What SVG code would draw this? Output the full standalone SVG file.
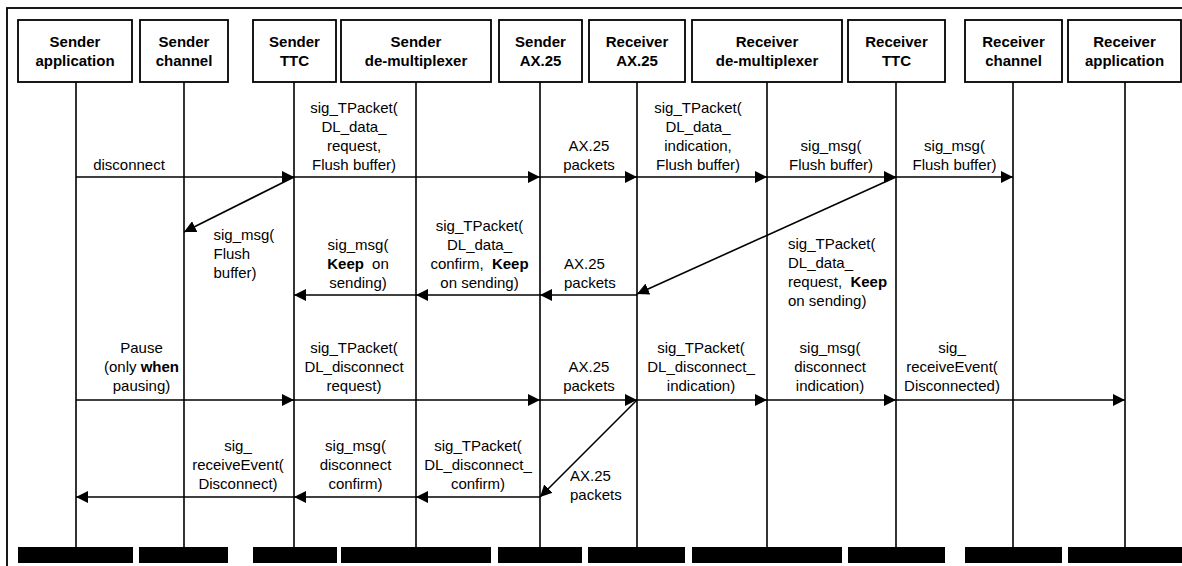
<svg xmlns="http://www.w3.org/2000/svg" width="1182" height="566" viewBox="0 0 1182 566">
<defs>
<marker id="ah" markerUnits="userSpaceOnUse" markerWidth="12" markerHeight="12" refX="12" refY="6" orient="auto"><path d="M0,0 L12,6 L0,12 z" fill="#000"/></marker>
<style>
.box{fill:#fff;stroke:#000;stroke-width:1.8}
.life{stroke:#000;stroke-width:1.6}
.bar{fill:#000}
.h{font:bold 15px "Liberation Sans",Arial,sans-serif;text-anchor:middle;fill:#000}
.t{font:15px "Liberation Sans",Arial,sans-serif;fill:#000}
.m{text-anchor:middle}
.b{font-weight:bold}
.msg{stroke:#000;stroke-width:1.6;marker-end:url(#ah);fill:none}
</style>
</defs>
<rect width="1182" height="566" fill="#fff"/>
<rect x="7" y="8" width="1200" height="600" fill="none" stroke="#000" stroke-width="1.8"/>

<g id="sender-application">
<line class="life" x1="76" y1="82" x2="76" y2="548"/>
<rect class="box" x="18" y="20" width="114" height="62"/>
<text class="h" x="75" y="47">Sender<tspan x="75" dy="19">application</tspan></text>
<rect class="bar" x="18" y="547" width="115" height="16"/>
</g>
<g id="sender-channel">
<line class="life" x1="184" y1="82" x2="184" y2="548"/>
<rect class="box" x="140" y="20" width="88" height="62"/>
<text class="h" x="184" y="47">Sender<tspan x="184" dy="19">channel</tspan></text>
<rect class="bar" x="139" y="547" width="89" height="16"/>
</g>
<g id="sender-ttc">
<line class="life" x1="294" y1="82" x2="294" y2="548"/>
<rect class="box" x="253" y="20" width="83" height="62"/>
<text class="h" x="294.5" y="47">Sender<tspan x="294.5" dy="19">TTC</tspan></text>
<rect class="bar" x="253" y="547" width="84" height="16"/>
</g>
<g id="sender-demux">
<line class="life" x1="416" y1="82" x2="416" y2="548"/>
<rect class="box" x="341" y="20" width="150" height="62"/>
<text class="h" x="416" y="47">Sender<tspan x="416" dy="19">de-multiplexer</tspan></text>
<rect class="bar" x="341" y="547" width="150" height="16"/>
</g>
<g id="sender-ax25">
<line class="life" x1="540" y1="82" x2="540" y2="548"/>
<rect class="box" x="499" y="20" width="83" height="62"/>
<text class="h" x="540.5" y="47">Sender<tspan x="540.5" dy="19">AX.25</tspan></text>
<rect class="bar" x="498" y="547" width="84" height="16"/>
</g>
<g id="receiver-ax25">
<line class="life" x1="637" y1="82" x2="637" y2="548"/>
<rect class="box" x="589" y="20" width="96" height="62"/>
<text class="h" x="637" y="47">Receiver<tspan x="637" dy="19">AX.25</tspan></text>
<rect class="bar" x="588" y="547" width="97" height="16"/>
</g>
<g id="receiver-demux">
<line class="life" x1="767" y1="82" x2="767" y2="548"/>
<rect class="box" x="692" y="20" width="150" height="62"/>
<text class="h" x="767" y="47">Receiver<tspan x="767" dy="19">de-multiplexer</tspan></text>
<rect class="bar" x="692" y="547" width="150" height="16"/>
</g>
<g id="receiver-ttc">
<line class="life" x1="896" y1="82" x2="896" y2="548"/>
<rect class="box" x="848" y="20" width="97" height="62"/>
<text class="h" x="896.5" y="47">Receiver<tspan x="896.5" dy="19">TTC</tspan></text>
<rect class="bar" x="848" y="547" width="97" height="16"/>
</g>
<g id="receiver-channel">
<line class="life" x1="1013" y1="82" x2="1013" y2="548"/>
<rect class="box" x="965" y="20" width="97" height="62"/>
<text class="h" x="1013.5" y="47">Receiver<tspan x="1013.5" dy="19">channel</tspan></text>
<rect class="bar" x="965" y="547" width="97" height="16"/>
</g>
<g id="receiver-application">
<line class="life" x1="1125" y1="82" x2="1125" y2="548"/>
<rect class="box" x="1068" y="20" width="113" height="62"/>
<text class="h" x="1124.5" y="47">Receiver<tspan x="1124.5" dy="19">application</tspan></text>
<rect class="bar" x="1068" y="547" width="120" height="16"/>
</g>

<g id="connectors">
<line class="msg" x1="76" y1="177" x2="294" y2="177"/>
<line class="msg" x1="294" y1="177" x2="540" y2="177"/>
<line class="msg" x1="540" y1="177" x2="637" y2="177"/>
<line class="msg" x1="637" y1="177" x2="767" y2="177"/>
<line class="msg" x1="767" y1="177" x2="896" y2="177"/>
<line class="msg" x1="896" y1="177" x2="1013" y2="177"/>
<line class="msg" x1="294" y1="177" x2="184" y2="232"/>
<line class="msg" x1="896" y1="177" x2="637" y2="294"/>
<line class="msg" x1="637" y1="295" x2="540" y2="295"/>
<line class="msg" x1="540" y1="295" x2="416" y2="295"/>
<line class="msg" x1="416" y1="295" x2="294" y2="295"/>
<line class="msg" x1="76" y1="400" x2="294" y2="400"/>
<line class="msg" x1="294" y1="400" x2="540" y2="400"/>
<line class="msg" x1="540" y1="400" x2="637" y2="400"/>
<line class="msg" x1="637" y1="400" x2="767" y2="400"/>
<line class="msg" x1="767" y1="400" x2="896" y2="400"/>
<line class="msg" x1="896" y1="400" x2="1125" y2="400"/>
<line class="msg" x1="637" y1="400" x2="540" y2="497"/>
<line class="msg" x1="294" y1="497" x2="76" y2="497"/>
<line class="msg" x1="416" y1="497" x2="294" y2="497"/>
<line class="msg" x1="540" y1="497" x2="416" y2="497"/>
</g>

<g id="labels">
<text class="t m" x="129" y="170">disconnect</text>
<text class="t m" x="354" y="113">sig_TPacket(<tspan x="354" dy="19">DL_data_</tspan><tspan x="354" dy="19">request,</tspan><tspan x="354" dy="19">Flush buffer)</tspan></text>
<text class="t m" x="589" y="151">AX.25<tspan x="589" dy="19">packets</tspan></text>
<text class="t m" x="698" y="113">sig_TPacket(<tspan x="698" dy="19">DL_data_</tspan><tspan x="698" dy="19">indication,</tspan><tspan x="698" dy="19">Flush buffer)</tspan></text>
<text class="t m" x="831" y="151">sig_msg(<tspan x="831" dy="19">Flush buffer)</tspan></text>
<text class="t m" x="954.5" y="151">sig_msg(<tspan x="954.5" dy="19">Flush buffer)</tspan></text>

<text class="t" x="213.5" y="240">sig_msg(<tspan x="213.5" dy="19">Flush</tspan><tspan x="213.5" dy="19">buffer)</tspan></text>
<text class="t m" x="358" y="250">sig_msg(<tspan x="358" dy="19"><tspan class="b">Keep</tspan><tspan dx="4"> on</tspan></tspan><tspan x="358" dy="19">sending)</tspan></text>
<text class="t m" x="479.5" y="231">sig_TPacket(<tspan x="479.5" dy="19">DL_data_</tspan><tspan x="479.5" dy="19">confirm, <tspan class="b" dx="4">Keep</tspan></tspan><tspan x="479.5" dy="19">on sending)</tspan></text>
<text class="t" x="564" y="269">AX.25<tspan x="564" dy="19">packets</tspan></text>
<text class="t" x="788" y="249">sig_TPacket(<tspan x="788" dy="19">DL_data_</tspan><tspan x="788" dy="19">request, <tspan class="b" dx="4">Keep</tspan></tspan><tspan x="788" dy="19">on sending)</tspan></text>

<text class="t m" x="141.5" y="353">Pause<tspan x="141.5" dy="19">(only <tspan class="b">when</tspan></tspan><tspan x="141.5" dy="19">pausing)</tspan></text>
<text class="t m" x="354" y="353">sig_TPacket(<tspan x="354" dy="19">DL_disconnect</tspan><tspan x="354" dy="19">request)</tspan></text>
<text class="t m" x="589" y="372">AX.25<tspan x="589" dy="19">packets</tspan></text>
<text class="t m" x="701" y="353">sig_TPacket(<tspan x="701" dy="19">DL_disconnect_</tspan><tspan x="701" dy="19">indication)</tspan></text>
<text class="t m" x="830" y="353">sig_msg(<tspan x="830" dy="19">disconnect</tspan><tspan x="830" dy="19">indication)</tspan></text>
<text class="t m" x="952" y="353">sig_<tspan x="952" dy="19">receiveEvent(</tspan><tspan x="952" dy="19">Disconnected)</tspan></text>

<text class="t m" x="238" y="451">sig_<tspan x="238" dy="19">receiveEvent(</tspan><tspan x="238" dy="19">Disconnect)</tspan></text>
<text class="t m" x="355.5" y="451">sig_msg(<tspan x="355.5" dy="19">disconnect</tspan><tspan x="355.5" dy="19">confirm)</tspan></text>
<text class="t m" x="478" y="451">sig_TPacket(<tspan x="478" dy="19">DL_disconnect_</tspan><tspan x="478" dy="19">confirm)</tspan></text>
<text class="t" x="570" y="481">AX.25<tspan x="570" dy="19">packets</tspan></text>
</g>
</svg>
